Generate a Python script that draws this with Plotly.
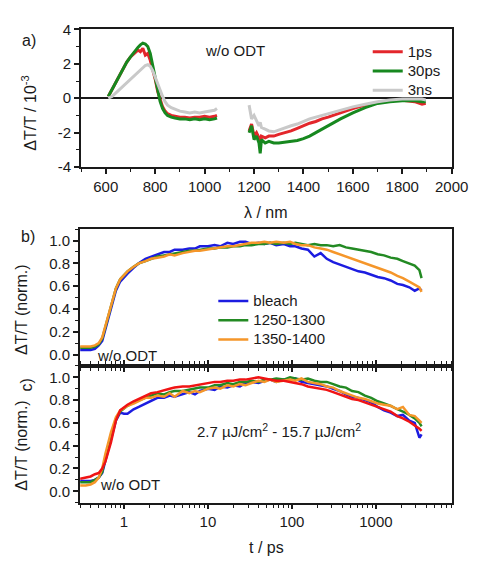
import plotly.graph_objects as go

W, H = 488, 565

# ---- panel a: transient spectra (dT/T in 1e-3) ----
wl_vis = [610, 625, 640, 655, 670, 685, 700, 715, 730, 740, 750, 760, 770, 780, 790, 800,
          810, 820, 830, 840, 850, 865, 880, 900, 920, 940, 960, 980, 1000, 1020, 1040, 1050]
wl_ir = [1180, 1190, 1200, 1210, 1220, 1225, 1230, 1245, 1260, 1280, 1300, 1325, 1350, 1375,
         1400, 1425, 1450, 1475, 1500, 1550, 1600, 1650, 1700, 1750, 1800, 1850, 1880, 1895]

red_vis = [0.1, 0.5, 0.9, 1.3, 1.7, 2.1, 2.4, 2.6, 2.8, 2.7, 2.9, 2.5, 2.6, 2.2, 1.7, 1.1,
           0.4, -0.1, -0.5, -0.75, -0.9, -1.0, -1.05, -1.1, -1.1, -1.15, -1.1, -1.1, -1.05, -1.1, -1.05, -1.0]
green_vis = [0.1, 0.5, 0.9, 1.3, 1.7, 2.1, 2.4, 2.7, 2.95, 3.1, 3.2, 3.15, 3.0, 2.6, 1.9, 1.2,
             0.4, -0.2, -0.6, -0.85, -1.0, -1.1, -1.15, -1.2, -1.2, -1.25, -1.2, -1.25, -1.2, -1.25, -1.2, -1.15]
gray_vis = [0.0, 0.1, 0.3, 0.5, 0.7, 0.9, 1.1, 1.3, 1.5, 1.65, 1.8, 1.9, 1.95, 1.85, 1.6, 1.2,
            0.8, 0.4, 0.1, -0.2, -0.4, -0.55, -0.65, -0.75, -0.8, -0.85, -0.8, -0.85, -0.8, -0.75, -0.7, -0.6]

red_ir = [-1.9, -1.5, -2.2, -2.0, -2.3, -2.6, -2.2, -2.3, -2.2, -2.2, -2.1, -2.0, -1.9, -1.75,
          -1.6, -1.45, -1.35, -1.2, -1.1, -0.85, -0.6, -0.4, -0.25, -0.15, -0.12, -0.2, -0.35, -0.3]
green_ir = [-2.0, -1.6, -2.4, -2.2, -2.6, -3.2, -2.4, -2.6, -2.5, -2.6, -2.6, -2.55, -2.5, -2.45,
            -2.35, -2.2, -2.0, -1.8, -1.6, -1.2, -0.85, -0.55, -0.3, -0.2, -0.15, -0.15, -0.2, -0.2]
gray_ir = [-0.4, -1.2, -1.0, -1.3, -1.6, -1.4, -1.7, -1.8, -1.9, -1.95, -1.85, -1.7, -1.6, -1.5,
           -1.35, -1.2, -1.1, -1.0, -0.9, -0.7, -0.5, -0.35, -0.2, -0.1, -0.05, -0.05, -0.05, -0.1]

# ---- panels b, c: kinetics (normalised) ----
t_ps = [0.3, 0.35, 0.4, 0.45, 0.5, 0.55, 0.6, 0.7, 0.8, 0.9, 1.0, 1.1, 1.3, 1.5, 1.8, 2.1, 2.5,
        3, 3.5, 4, 5, 6, 7, 8, 10, 12, 14, 17, 20, 24, 28, 33, 40, 47, 55, 65, 80, 95,
        110, 130, 155, 185, 220, 260, 310, 370, 440, 520, 620, 740, 880, 1050, 1250, 1500,
        1800, 2100, 2500, 2900, 3300, 3500]

b_bleach = [0.04, 0.04, 0.04, 0.05, 0.08, 0.12, 0.22, 0.40, 0.56, 0.64, 0.68, 0.71, 0.76, 0.80,
            0.84, 0.86, 0.88, 0.90, 0.90, 0.92, 0.92, 0.93, 0.93, 0.95, 0.95, 0.96, 0.95, 0.98,
            0.97, 0.99, 0.99, 0.97, 0.98, 0.97, 0.98, 0.96, 0.97, 0.95, 0.95, 0.93, 0.92, 0.86,
            0.89, 0.84, 0.81, 0.79, 0.77, 0.75, 0.73, 0.72, 0.70, 0.68, 0.67, 0.65, 0.62, 0.61,
            0.59, 0.56, 0.58, 0.56]
b_1250 = [0.06, 0.06, 0.06, 0.07, 0.09, 0.14, 0.24, 0.42, 0.58, 0.66, 0.70, 0.73, 0.77, 0.80,
          0.82, 0.84, 0.86, 0.87, 0.88, 0.89, 0.90, 0.91, 0.91, 0.92, 0.93, 0.93, 0.94, 0.94,
          0.95, 0.95, 0.96, 0.96, 0.97, 0.97, 0.98, 0.97, 0.98, 0.97, 0.98, 0.97, 0.96, 0.97,
          0.96, 0.96, 0.95, 0.96, 0.94, 0.93, 0.92, 0.91, 0.90, 0.88, 0.87, 0.85, 0.84, 0.82,
          0.80, 0.78, 0.74, 0.67]
b_1350 = [0.07, 0.07, 0.07, 0.08, 0.10, 0.15, 0.25, 0.43, 0.58, 0.66, 0.70, 0.73, 0.77, 0.80,
          0.82, 0.84, 0.85, 0.86, 0.88, 0.87, 0.89, 0.90, 0.91, 0.91, 0.92, 0.93, 0.94, 0.95,
          0.95, 0.96, 0.97, 0.98, 0.98, 0.99, 0.98, 0.99, 0.98, 0.99, 0.97, 0.96, 0.96, 0.94,
          0.93, 0.92, 0.90, 0.88, 0.86, 0.84, 0.82, 0.80, 0.78, 0.76, 0.74, 0.72, 0.69, 0.67,
          0.64, 0.61, 0.59, 0.55]

c_blue = [0.09, 0.09, 0.09, 0.10, 0.12, 0.16, 0.27, 0.45, 0.62, 0.69, 0.68, 0.68, 0.72, 0.74,
          0.77, 0.79, 0.82, 0.82, 0.84, 0.83, 0.85, 0.87, 0.85, 0.88, 0.90, 0.89, 0.92, 0.91,
          0.93, 0.92, 0.95, 0.96, 0.95, 0.97, 0.98, 0.96, 0.98, 0.97, 0.99, 0.96, 0.95, 0.94,
          0.93, 0.92, 0.90, 0.88, 0.85, 0.83, 0.82, 0.80, 0.78, 0.74, 0.71, 0.69, 0.66, 0.67,
          0.62, 0.60, 0.47, 0.50]
c_green = [0.08, 0.08, 0.08, 0.10, 0.12, 0.17, 0.29, 0.47, 0.63, 0.70, 0.73, 0.75, 0.78, 0.80,
           0.82, 0.84, 0.86, 0.85, 0.87, 0.88, 0.88, 0.89, 0.90, 0.91, 0.91, 0.93, 0.93, 0.95,
           0.94, 0.96, 0.96, 0.97, 0.96, 0.98, 0.98, 0.99, 0.98, 1.00, 0.99, 0.98, 0.99, 0.97,
           0.96, 0.96, 0.94, 0.92, 0.91, 0.88, 0.87, 0.84, 0.82, 0.79, 0.77, 0.75, 0.72, 0.70,
           0.67, 0.64, 0.60, 0.57]
c_orange = [0.05, 0.05, 0.06, 0.08, 0.12, 0.20, 0.33, 0.52, 0.65, 0.71, 0.73, 0.75, 0.77, 0.79,
            0.82, 0.82, 0.84, 0.83, 0.86, 0.83, 0.88, 0.86, 0.88, 0.87, 0.90, 0.91, 0.90, 0.93,
            0.92, 0.94, 0.93, 0.95, 0.97, 0.96, 0.98, 0.96, 0.97, 0.98, 0.97, 0.99, 0.96, 0.95,
            0.94, 0.92, 0.91, 0.88, 0.86, 0.84, 0.82, 0.81, 0.79, 0.77, 0.76, 0.75, 0.72, 0.74,
            0.67, 0.66, 0.62, 0.60]
c_red = [0.11, 0.12, 0.13, 0.15, 0.16, 0.20, 0.26, 0.43, 0.62, 0.71, 0.74, 0.76, 0.79, 0.81,
         0.84, 0.86, 0.87, 0.89, 0.90, 0.91, 0.92, 0.92, 0.93, 0.94, 0.95, 0.96, 0.96, 0.97,
         0.97, 0.98, 0.98, 0.99, 1.00, 0.99, 0.98, 0.97, 0.97, 0.96, 0.95, 0.94, 0.92, 0.91,
         0.90, 0.89, 0.87, 0.85, 0.83, 0.81, 0.80, 0.78, 0.76, 0.74, 0.72, 0.70, 0.66, 0.64,
         0.61, 0.58, 0.55, 0.53]

FONT = "Arial, 'Liberation Sans', sans-serif"
INK = "#1a1a1a"


def px(x):
    return x / W


def py(y):
    return 1 - y / H


def big(name):
    # legend rows are spaced by legend font size; draw the label itself larger
    return f'<span style="font-size:15px">{name}</span>'


fig = go.Figure()

# panel a
wl = wl_vis + [None] + wl_ir
for name, vis, ir, color in [("1ps", red_vis, red_ir, "#e3262b"),
                             ("30ps", green_vis, green_ir, "#17881f"),
                             ("3ns", gray_vis, gray_ir, "#c9c9c9")]:
    fig.add_trace(go.Scatter(x=wl, y=vis + [None] + ir, name=big(name), mode="lines",
                             line=dict(color=color, width=3), connectgaps=False,
                             xaxis="x", yaxis="y", legend="legend"))

# panel b
for name, vals, color in [("bleach", b_bleach, "#1c1ce0"),
                          ("1250-1300", b_1250, "#238a23"),
                          ("1350-1400", b_1350, "#f5962a")]:
    fig.add_trace(go.Scatter(x=t_ps, y=vals, name=big(name), mode="lines",
                             line=dict(color=color, width=2.5),
                             xaxis="x2", yaxis="y2", legend="legend2"))

# panel c
for vals, color in [(c_blue, "#1c1ce0"), (c_green, "#238a23"),
                    (c_orange, "#f5962a"), (c_red, "#f01414")]:
    fig.add_trace(go.Scatter(x=t_ps, y=vals, mode="lines", showlegend=False,
                             line=dict(color=color, width=2.5),
                             xaxis="x3", yaxis="y3"))

axis_common = dict(showline=True, linecolor=INK, linewidth=2, ticks="outside",
                   ticklen=5, tickwidth=1.5, tickcolor=INK, showgrid=False,
                   zeroline=False, tickfont=dict(size=15, color=INK))
log_minor = dict(ticks="outside", ticklen=3, tickwidth=1.3, tickcolor=INK,
                 dtick="D1", showgrid=False)
norm_ticks = dict(tickvals=[0, 0.2, 0.4, 0.6, 0.8, 1.0],
                  ticktext=["0.0", "0.2", "0.4", "0.6", "0.8", "1.0"],
                  range=[-0.1, 1.1],
                  minor=dict(ticks="outside", ticklen=3, tickwidth=1.3, tickcolor=INK,
                             dtick=0.1, tick0=0, showgrid=False))
decades = dict(tickvals=[1, 10, 100, 1000], ticktext=["1", "10", "100", "1000"])
t_range = [-0.523, 3.903]
legend_common = dict(xanchor="left", yanchor="top", bgcolor="rgba(0,0,0,0)",
                     font=dict(size=12.5, color=INK), tracegroupgap=0, itemwidth=30)

fig.update_layout(
    width=W, height=H,
    margin=dict(l=0, r=0, t=0, b=0),
    paper_bgcolor="white", plot_bgcolor="white",
    font=dict(family=FONT, size=15, color=INK),
    xaxis=dict(axis_common, domain=[px(84), px(468)], anchor="y", range=[500, 2000],
               dtick=200, tick0=0, mirror=True,
               minor=dict(ticks="outside", ticklen=3, tickwidth=1.3, tickcolor=INK,
                          dtick=100, tick0=0, showgrid=False)),
    yaxis=dict(axis_common, domain=[py(163), py(21)], anchor="x", range=[-4, 4],
               tickvals=[-4, -2, 0, 2, 4], ticktext=["-4", "-2", "0", "2", "4"],
               mirror=True, zeroline=True, zerolinecolor=INK, zerolinewidth=2,
               minor=dict(ticks="outside", ticklen=3, tickwidth=1.3, tickcolor=INK,
                          dtick=1, tick0=0, showgrid=False)),
    xaxis2=dict(axis_common, domain=[px(83), px(468)], anchor="y2", type="log",
                range=t_range, showticklabels=False, mirror=True, ticklen=4,
                minor=log_minor, **decades),
    yaxis2=dict(axis_common, domain=[py(368), py(227)], anchor="x2", mirror=True,
                **norm_ticks),
    xaxis3=dict(axis_common, domain=[px(83), px(468)], anchor="y3", type="log",
                range=t_range, mirror="ticks", ticklen=4, minor=log_minor, **decades),
    yaxis3=dict(axis_common, domain=[py(509), py(368)], anchor="x3", mirror=True,
                **norm_ticks),
    legend=dict(legend_common, x=px(381), y=py(29)),
    legend2=dict(legend_common, x=px(221), y=py(286)),
)


def note(text, x, y, anchor="center", angle=0, size=15):
    fig.add_annotation(text=text, x=px(x), y=py(y), xref="paper", yref="paper",
                       xanchor=anchor, yanchor="middle", showarrow=False,
                       textangle=angle, font=dict(family=FONT, size=size, color=INK))


note("a)", 30, 32, size=16)
note("b)", 29, 235, size=16)
note("c)", 27, 388, angle=-90, size=16)
note("w/o ODT", 243, 43)
note("w/o ODT", 98, 357, anchor="left")
note("w/o ODT", 102, 490, anchor="left")
note("2.7 µJ/cm<sup>2</sup> - 15.7 µJ/cm<sup>2</sup>", 202, 435, anchor="left")
note("ΔT/T / 10<sup>-3</sup>", 30, 107, angle=-90, size=16)
note("ΔT/T (norm.)", 22, 310, angle=-90, size=16)
note("ΔT/T (norm.)", 22, 450, angle=-90, size=16)
note("λ / nm", 276, 210, size=16)
note("t / ps", 276, 555, size=16)

fig.write_html("out.html", config={"displayModeBar": False},
               post_script="document.body.style.margin='0';")
